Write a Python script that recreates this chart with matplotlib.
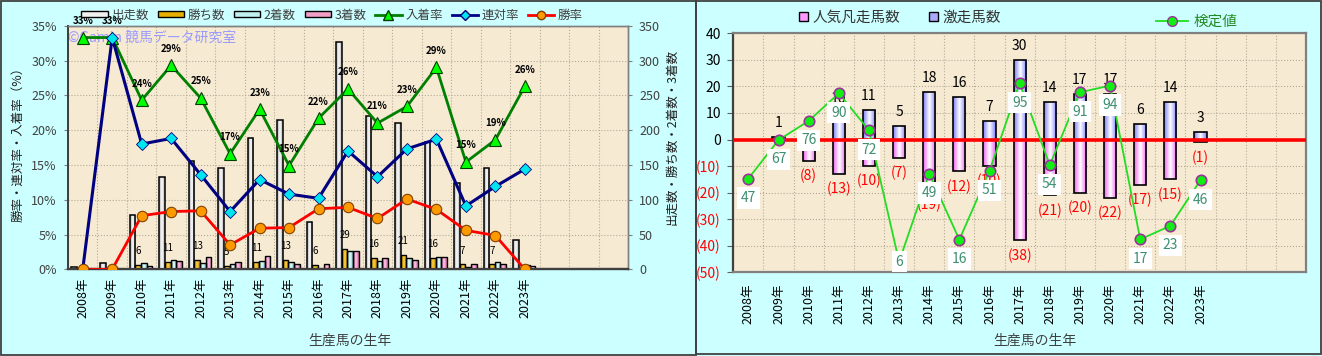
import numpy as np
import matplotlib
matplotlib.use("Agg")
import matplotlib.pyplot as plt
from matplotlib.colors import to_rgb
from matplotlib.patches import Rectangle
from matplotlib.lines import Line2D

plt.rcParams['font.family'] = ['Noto Sans CJK JP', 'DejaVu Sans']

# ---- data ----
years = [2008, 2009, 2010, 2011, 2012, 2013, 2014, 2015,
         2016, 2017, 2018, 2019, 2020, 2021, 2022, 2023]
n_slots = 19  # the charts leave room for 3 more years

starts = [3, 9, 78, 133, 155, 145, 189, 215, 68, 326, 220, 210, 183, 124, 145, 42]
wins = [0, 0, 6, 11, 13, 5, 11, 13, 6, 29, 16, 21, 16, 7, 7, 0]
seconds = [0, 3, 9, 14, 9, 8, 12, 10, 1, 26, 12, 16, 18, 4, 10, 6]
thirds = [1, 0, 5, 12, 17, 11, 19, 8, 8, 27, 16, 13, 18, 7, 8, 5]

place_rate = [33.3, 33.3, 24.3, 29.3, 24.6, 16.6, 23.0, 14.9,
              21.7, 25.9, 21.0, 23.4, 29.0, 15.4, 18.6, 26.3]
quinella_rate = [0, 33.3, 18.0, 18.8, 13.6, 8.3, 12.9, 10.8,
                 10.2, 17.0, 13.3, 17.3, 18.7, 9.1, 11.9, 14.4]
win_rate = [0, 0, 7.7, 8.3, 8.4, 3.5, 5.9, 6.0,
            8.7, 8.9, 7.3, 10.1, 8.6, 5.6, 4.85, 0]

gekiso = [0, 1, 0, 10, 11, 5, 18, 16, 7, 30, 14, 17, 17, 6, 14, 3]
ninki_bonso = [0, 0, 8, 13, 10, 7, 19, 12, 10, 38, 21, 20, 22, 17, 15, 1]
kentei = [47, 67, 76, 90, 72, 6, 49, 16, 51, 95, 54, 91, 94, 17, 23, 46]
kentei_pos = [-14.7, -0.2, 7.0, 17.4, 3.5, -46, -12.8, -37.7,
              -11.8, 21.2, -9.6, 17.8, 20.3, -37.6, -32.5, -15.3]

year_labels = [f"{y}年" for y in years]
x = np.arange(len(years))

W, H = 1322, 356
PLOT_BG = '#f6ead3'
GRID = dict(color='#b5ab95', linestyle=':', linewidth=0.8)


def shade(ax, bars, edge, mid):
    # cylinder-like gradient inside each bar
    e = np.array(to_rgb(edge))
    m = np.array(to_rgb(mid))
    t = np.abs(np.linspace(-1, 1, 32))[:, None]
    grad = (m * (1 - t) + e * t)[None, :, :]
    for b in bars:
        h = b.get_height()
        if h == 0:
            b.set_visible(False)
            continue
        x0, y0 = b.get_x(), b.get_y()
        im = ax.imshow(grad, extent=[x0, x0 + b.get_width(), min(y0, y0 + h), max(y0, y0 + h)],
                       aspect='auto', interpolation='bilinear', zorder=b.get_zorder() - 0.1)
        im.set_clip_path(b)
        b.set_facecolor('none')


fig = plt.figure(figsize=(W / 100, H / 100), dpi=100, facecolor='#ccffff')
fig.patches.append(Rectangle((0.0008, 0.003), 696 / W - 0.001, 0.994, transform=fig.transFigure,
                             fill=False, ec='#404040', lw=1.3))
fig.patches.append(Rectangle((696 / W, 0.006), 1 - 696 / W - 0.0008, 0.991, transform=fig.transFigure,
                             fill=False, ec='#404040', lw=1.3))

# ================= left chart =================
ax = fig.add_axes([68 / W, 1 - 269.3 / H, 560 / W, 243.6 / H])
ax.set_facecolor(PLOT_BG)
axr = ax.twinx()
ax.yaxis.tick_right()
axr.yaxis.tick_left()

bw = 0.19
offs = [(k - 1.5) * bw - 0.02 for k in range(4)]
b1 = ax.bar(x + offs[0], starts, bw, ec='black', lw=1.1, zorder=3)
b2 = ax.bar(x + offs[1], wins, bw, ec='black', lw=1.0, zorder=3)
b3 = ax.bar(x + offs[2], seconds, bw, ec='black', lw=1.0, zorder=3)
b4 = ax.bar(x + offs[3], thirds, bw, ec='black', lw=1.0, zorder=3)
shade(ax, b1, '#a8a8a8', '#ffffff')
shade(ax, b2, '#c08a00', '#ffd040')
shade(ax, b3, '#80c8c8', '#e8ffff')
shade(ax, b4, '#d060a0', '#ffc8e8')
for i, w in enumerate(wins):
    if w > 0:
        ax.annotate(str(w), (i + offs[1], w), xytext=(0, 10), textcoords='offset points',
                    ha='center', va='center', fontsize=7, zorder=6)
ax.set_xlim(-0.5, n_slots - 0.5)
ax.set_ylim(0, 350)
ax.set_yticks(range(0, 351, 50))
ax.set_xticks(x)
ax.set_xticklabels(year_labels, rotation=90, fontsize=9)
ax.set_xticks(np.arange(-0.5, n_slots, 1), minor=True)
ax.grid(True, which='minor', axis='x', **GRID)
ax.grid(True, which='major', axis='y', **GRID)
ax.set_axisbelow(True)
ax.tick_params(axis='x', which='both', length=0, pad=6)
ax.tick_params(axis='y', labelsize=9, labelcolor='#404040', length=3, color='#808080', pad=5)

axr.plot(x, place_rate, color='#008000', lw=2, marker='^', ms=8.5, mfc='#00ff00', mec='#004000',
         mew=0.8, zorder=4)
axr.plot(x, quinella_rate, color='#000080', lw=2.2, marker='D', ms=6, mfc='#00e5ee', mec='#000080',
         mew=0.6, zorder=5)
axr.plot(x, win_rate, color='#ff0000', lw=2, marker='o', ms=7.5, mfc='#ff9900', mec='#804000',
         mew=0.8, zorder=6)
for i, v in enumerate(place_rate):
    axr.annotate(f"{round(v)}%", (i, v), xytext=(0, 12), textcoords='offset points', ha='center',
                 va='center', fontsize=7, fontweight='bold', annotation_clip=False, zorder=7)
axr.text(-0.5, 33.2, "©Gamin 競馬データ研究室", color='#9a9aff', fontsize=10, va='center',
         ha='left', zorder=2)
axr.set_xlim(-0.5, n_slots - 0.5)
axr.set_ylim(0, 35)
axr.set_yticks(range(0, 36, 5))
axr.set_yticklabels([f"{v}%" for v in range(0, 36, 5)])
axr.tick_params(axis='y', labelsize=9, labelcolor='#404040', length=3, color='#808080', pad=5)

for a in (ax, axr):
    for s in a.spines.values():
        s.set_color('#808080')
        s.set_linewidth(1)
    a.spines['bottom'].set_color('#404040')
    a.spines['bottom'].set_linewidth(1.6)
    a.spines['left'].set_color('#404040')
    a.spines['left'].set_linewidth(1.4)

fig.text(18 / W, 1 - 141 / H, "勝率・連対率・入着率（%）", rotation=90, ha='center', va='center',
         fontsize=9, color='#202020')
fig.text(672 / W, 1 - 137 / H, "出走数・勝ち数・2着数・3着数", rotation=90, ha='center', va='center',
         fontsize=9, color='#202020')
fig.text(350 / W, 1 - 341 / H, "生産馬の生年", ha='center', va='center', fontsize=10, color='#404040')

left_handles = [
    Rectangle((0, 0), 1, 1, fc='#f0f0f0', ec='black', lw=1),
    Rectangle((0, 0), 1, 1, fc='#e8b000', ec='black', lw=1),
    Rectangle((0, 0), 1, 1, fc='#c0f0f0', ec='black', lw=1),
    Rectangle((0, 0), 1, 1, fc='#f0a0c8', ec='black', lw=1),
    Line2D([], [], color='#008000', lw=2, marker='^', ms=7, mfc='#00ff00', mec='#004000'),
    Line2D([], [], color='#000080', lw=2, marker='D', ms=5, mfc='#00e5ee', mec='#000080'),
    Line2D([], [], color='#ff0000', lw=2, marker='o', ms=6, mfc='#ff9900', mec='#804000'),
]
left_labels = ["出走数", "勝ち数", "2着数", "3着数", "入着率", "連対率", "勝率"]
leg = fig.legend(left_handles, left_labels, loc='center', bbox_to_anchor=(332 / W, 1 - 15 / H),
                 ncol=7, frameon=False, fontsize=9, handlelength=2.1, handleheight=0.45,
                 handletextpad=0.3, columnspacing=0.7, borderpad=0)
for t in leg.get_texts():
    t.set_color('#404040')

# ================= right chart =================
ax2 = fig.add_axes([733.3 / W, 1 - 272.3 / H, 572.7 / W, 239 / H])
ax2.set_facecolor(PLOT_BG)
neg = [-n for n in ninki_bonso]
g1 = ax2.bar(x, gekiso, 0.4, ec='black', lw=1.2, zorder=3)
g2 = ax2.bar(x, neg, 0.4, ec='black', lw=1.2, zorder=3)
shade(ax2, g1, '#8080ff', '#ffffff')
shade(ax2, g2, '#ee66ee', '#ffffff')
ax2.axhline(0, color='#ff0000', lw=2.6, zorder=4)
for i, g in enumerate(gekiso):
    if g > 0:
        ax2.annotate(str(g), (i, g), xytext=(0, 10), textcoords='offset points', ha='center',
                     va='center', fontsize=10, zorder=5)
for i, n in enumerate(ninki_bonso):
    if n > 0:
        ax2.annotate(f"({n})", (i, -n), xytext=(0, -11), textcoords='offset points', ha='center',
                     va='center', fontsize=10, color='#ff0000', zorder=5)
ax2.plot(x, kentei_pos, color='#22dd22', lw=1.3, marker='o', ms=7.5, mfc='#11ee11', mec='#993399',
         mew=1.2, zorder=6)
for i, (k, p) in enumerate(zip(kentei, kentei_pos)):
    ax2.text(i, max(p - 7.3, -46), str(k), ha='center', va='center', fontsize=10, color='#3d8f6f',
             bbox=dict(fc='white', ec='none', pad=2.6), zorder=7)
ax2.set_xlim(-0.5, n_slots - 0.5)
ax2.set_ylim(-50, 40)
yt = list(range(-50, 41, 10))
ax2.set_yticks(yt)
ax2.set_yticklabels([str(v) if v >= 0 else f"({-v})" for v in yt])
for v, lab in zip(yt, ax2.get_yticklabels()):
    lab.set_color('#ff0000' if v < 0 else 'black')
ax2.set_xticks(x)
ax2.set_xticklabels(year_labels, rotation=90, fontsize=9)
ax2.set_xticks(np.arange(-0.5, n_slots, 1), minor=True)
ax2.grid(True, which='minor', axis='x', **GRID)
ax2.grid(True, which='major', axis='y', **GRID)
ax2.set_axisbelow(True)
ax2.tick_params(axis='x', which='both', length=0, pad=8)
ax2.tick_params(axis='y', labelsize=10, length=4, color='#606060', pad=5)
for s in ax2.spines.values():
    s.set_color('#808080')
    s.set_linewidth(1.6)
ax2.spines['left'].set_color('#404040')

fig.text(1035 / W, 1 - 341 / H, "生産馬の生年", ha='center', va='center', fontsize=10, color='#404040')

right_handles = [Rectangle((0, 0), 1, 1, fc='#ff99ff', ec='black', lw=1),
                 Rectangle((0, 0), 1, 1, fc='#aaaaff', ec='black', lw=1)]
leg2 = fig.legend(right_handles, ["人気凡走馬数", "激走馬数"], loc='center',
                  bbox_to_anchor=(900 / W, 1 - 18 / H), ncol=2, frameon=False, fontsize=10.5,
                  handlelength=0.6, handleheight=0.6, handletextpad=0.3, columnspacing=2.0,
                  borderpad=0)
for t in leg2.get_texts():
    t.set_color('#333333')
kh = [Line2D([], [], color='#22dd22', lw=1.3, marker='o', ms=7, mfc='#11ee11', mec='#993399')]
leg3 = fig.legend(kh, ["検定値"], loc='center', bbox_to_anchor=(1197 / W, 1 - 22 / H), frameon=False,
                  fontsize=10.5, handlelength=2.2, handletextpad=0.4, borderpad=0)
for t in leg3.get_texts():
    t.set_color('#228b22')

fig.savefig("out.png", dpi=100, facecolor=fig.get_facecolor())
